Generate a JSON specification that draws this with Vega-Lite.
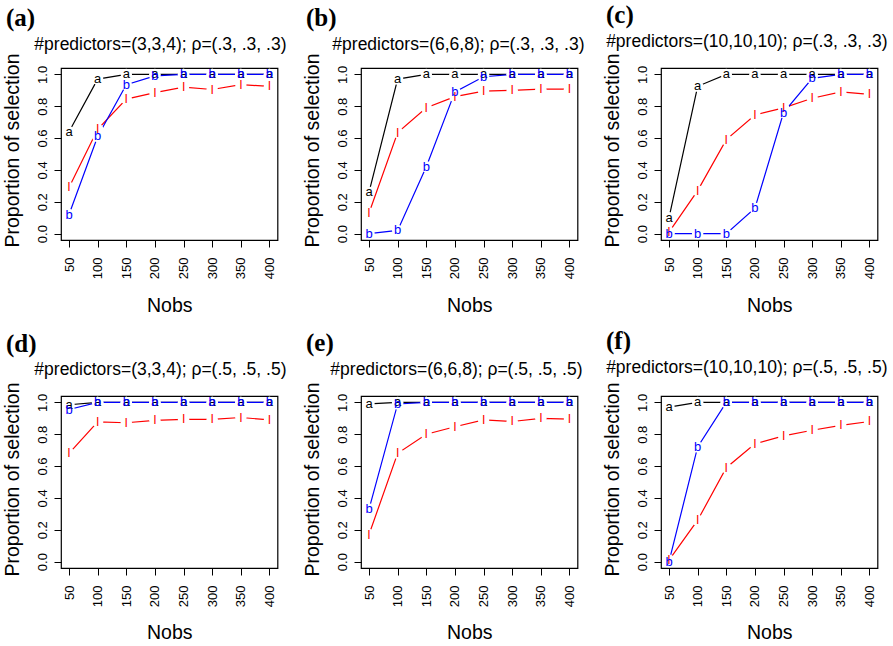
{
  "$schema": "https://vega.github.io/schema/vega-lite/v6.json",
  "background": "white",
  "padding": {"left": 1, "top": 2, "right": 5, "bottom": 5},
  "datasets": {
    "d": [
      {"p":"a","n":50,"s":"a","v":0.64},{"p":"a","n":100,"s":"a","v":0.97},{"p":"a","n":150,"s":"a","v":1},{"p":"a","n":200,"s":"a","v":1},{"p":"a","n":250,"s":"a","v":1},{"p":"a","n":300,"s":"a","v":1},{"p":"a","n":350,"s":"a","v":1},{"p":"a","n":400,"s":"a","v":1},
      {"p":"a","n":50,"s":"l","v":0.29},{"p":"a","n":100,"s":"l","v":0.655},{"p":"a","n":150,"s":"l","v":0.845},{"p":"a","n":200,"s":"l","v":0.885},{"p":"a","n":250,"s":"l","v":0.92},{"p":"a","n":300,"s":"l","v":0.905},{"p":"a","n":350,"s":"l","v":0.935},{"p":"a","n":400,"s":"l","v":0.925},
      {"p":"a","n":50,"s":"b","v":0.12},{"p":"a","n":100,"s":"b","v":0.61},{"p":"a","n":150,"s":"b","v":0.935},{"p":"a","n":200,"s":"b","v":0.99},{"p":"a","n":250,"s":"b","v":1},{"p":"a","n":300,"s":"b","v":1},{"p":"a","n":350,"s":"b","v":1},{"p":"a","n":400,"s":"b","v":1},

      {"p":"b","n":50,"s":"a","v":0.26},{"p":"b","n":100,"s":"a","v":0.97},{"p":"b","n":150,"s":"a","v":1},{"p":"b","n":200,"s":"a","v":1},{"p":"b","n":250,"s":"a","v":1},{"p":"b","n":300,"s":"a","v":1},{"p":"b","n":350,"s":"a","v":1},{"p":"b","n":400,"s":"a","v":1},
      {"p":"b","n":50,"s":"l","v":0.13},{"p":"b","n":100,"s":"l","v":0.635},{"p":"b","n":150,"s":"l","v":0.79},{"p":"b","n":200,"s":"l","v":0.86},{"p":"b","n":250,"s":"l","v":0.895},{"p":"b","n":300,"s":"l","v":0.9},{"p":"b","n":350,"s":"l","v":0.907},{"p":"b","n":400,"s":"l","v":0.907},
      {"p":"b","n":50,"s":"b","v":0},{"p":"b","n":100,"s":"b","v":0.02},{"p":"b","n":150,"s":"b","v":0.42},{"p":"b","n":200,"s":"b","v":0.89},{"p":"b","n":250,"s":"b","v":0.985},{"p":"b","n":300,"s":"b","v":1},{"p":"b","n":350,"s":"b","v":1},{"p":"b","n":400,"s":"b","v":1},

      {"p":"c","n":50,"s":"a","v":0.1},{"p":"c","n":100,"s":"a","v":0.925},{"p":"c","n":150,"s":"a","v":1},{"p":"c","n":200,"s":"a","v":1},{"p":"c","n":250,"s":"a","v":1},{"p":"c","n":300,"s":"a","v":1},{"p":"c","n":350,"s":"a","v":1},{"p":"c","n":400,"s":"a","v":1},
      {"p":"c","n":50,"s":"l","v":0.01},{"p":"c","n":100,"s":"l","v":0.27},{"p":"c","n":150,"s":"l","v":0.59},{"p":"c","n":200,"s":"l","v":0.745},{"p":"c","n":250,"s":"l","v":0.79},{"p":"c","n":300,"s":"l","v":0.85},{"p":"c","n":350,"s":"l","v":0.89},{"p":"c","n":400,"s":"l","v":0.875},
      {"p":"c","n":50,"s":"b","v":0},{"p":"c","n":100,"s":"b","v":0},{"p":"c","n":150,"s":"b","v":0},{"p":"c","n":200,"s":"b","v":0.16},{"p":"c","n":250,"s":"b","v":0.76},{"p":"c","n":300,"s":"b","v":0.975},{"p":"c","n":350,"s":"b","v":1},{"p":"c","n":400,"s":"b","v":1},

      {"p":"d","n":50,"s":"a","v":0.985},{"p":"d","n":100,"s":"a","v":1},{"p":"d","n":150,"s":"a","v":1},{"p":"d","n":200,"s":"a","v":1},{"p":"d","n":250,"s":"a","v":1},{"p":"d","n":300,"s":"a","v":1},{"p":"d","n":350,"s":"a","v":1},{"p":"d","n":400,"s":"a","v":1},
      {"p":"d","n":50,"s":"l","v":0.68},{"p":"d","n":100,"s":"l","v":0.878},{"p":"d","n":150,"s":"l","v":0.872},{"p":"d","n":200,"s":"l","v":0.887},{"p":"d","n":250,"s":"l","v":0.893},{"p":"d","n":300,"s":"l","v":0.893},{"p":"d","n":350,"s":"l","v":0.905},{"p":"d","n":400,"s":"l","v":0.89},
      {"p":"d","n":50,"s":"b","v":0.955},{"p":"d","n":100,"s":"b","v":1},{"p":"d","n":150,"s":"b","v":1},{"p":"d","n":200,"s":"b","v":1},{"p":"d","n":250,"s":"b","v":1},{"p":"d","n":300,"s":"b","v":1},{"p":"d","n":350,"s":"b","v":1},{"p":"d","n":400,"s":"b","v":1},

      {"p":"e","n":50,"s":"a","v":0.99},{"p":"e","n":100,"s":"a","v":1},{"p":"e","n":150,"s":"a","v":1},{"p":"e","n":200,"s":"a","v":1},{"p":"e","n":250,"s":"a","v":1},{"p":"e","n":300,"s":"a","v":1},{"p":"e","n":350,"s":"a","v":1},{"p":"e","n":400,"s":"a","v":1},
      {"p":"e","n":50,"s":"l","v":0.17},{"p":"e","n":100,"s":"l","v":0.68},{"p":"e","n":150,"s":"l","v":0.8},{"p":"e","n":200,"s":"l","v":0.847},{"p":"e","n":250,"s":"l","v":0.89},{"p":"e","n":300,"s":"l","v":0.88},{"p":"e","n":350,"s":"l","v":0.9},{"p":"e","n":400,"s":"l","v":0.895},
      {"p":"e","n":50,"s":"b","v":0.33},{"p":"e","n":100,"s":"b","v":0.99},{"p":"e","n":150,"s":"b","v":1},{"p":"e","n":200,"s":"b","v":1},{"p":"e","n":250,"s":"b","v":1},{"p":"e","n":300,"s":"b","v":1},{"p":"e","n":350,"s":"b","v":1},{"p":"e","n":400,"s":"b","v":1},

      {"p":"f","n":50,"s":"a","v":0.97},{"p":"f","n":100,"s":"a","v":1},{"p":"f","n":150,"s":"a","v":1},{"p":"f","n":200,"s":"a","v":1},{"p":"f","n":250,"s":"a","v":1},{"p":"f","n":300,"s":"a","v":1},{"p":"f","n":350,"s":"a","v":1},{"p":"f","n":400,"s":"a","v":1},
      {"p":"f","n":50,"s":"l","v":0.01},{"p":"f","n":100,"s":"l","v":0.26},{"p":"f","n":150,"s":"l","v":0.59},{"p":"f","n":200,"s":"l","v":0.74},{"p":"f","n":250,"s":"l","v":0.79},{"p":"f","n":300,"s":"l","v":0.825},{"p":"f","n":350,"s":"l","v":0.855},{"p":"f","n":400,"s":"l","v":0.88},
      {"p":"f","n":50,"s":"b","v":0},{"p":"f","n":100,"s":"b","v":0.72},{"p":"f","n":150,"s":"b","v":1},{"p":"f","n":200,"s":"b","v":1},{"p":"f","n":250,"s":"b","v":1},{"p":"f","n":300,"s":"b","v":1},{"p":"f","n":350,"s":"b","v":1},{"p":"f","n":400,"s":"b","v":1}
    ]
  },
  "data": {"name": "d"},
  "columns": 3,
  "bounds": "flush",
  "spacing": {"row": 156, "column": 83},
  "concat": [
    {
      "width": 216.5, "height": 172,
      "title": {"text": "(a)", "anchor": "start", "frame": "group", "dx": -55},
      "transform": [{"filter": "datum.p == 'a'"}],
      "resolve": {"axis": {"x": "independent", "y": "independent"}},
      "layer": [
        {"mark": {"type": "line", "strokeWidth": 1.2},
         "encoding": {
           "x": {"field": "n", "type": "quantitative", "scale": {"domain": [36, 414], "nice": false, "zero": false},
                 "axis": {"orient": "top", "labels": false, "ticks": false, "domain": false, "grid": false, "title": "#predictors=(3,3,4); ρ=(.3, .3, .3)", "titleX": 225, "titleY": -19, "titleAlign": "right", "titleBaseline": "alphabetic", "titleFontSize": 17.5}},
           "y": {"field": "v", "type": "quantitative", "scale": {"domain": [-0.04, 1.04], "nice": false, "zero": false},
                 "axis": {"values": [0,0.2,0.4,0.6,0.8,1], "format": ".1f", "labelAngle": 270, "labelAlign": "center", "labelBaseline": "alphabetic", "labelPadding": 8, "title": "Proportion of selection", "titleAngle": 270, "titleX": -43, "titleY": 82, "titleAlign": "center", "titleBaseline": "alphabetic"}},
           "color": {"field": "s", "type": "nominal", "scale": {"domain": ["a", "l", "b"], "range": ["#000000", "#FF0000", "#0000FF"]}, "legend": null}
         }},
        {"mark": {"type": "point", "shape": "circle", "filled": true, "color": "white", "opacity": 1, "size": 130},
         "encoding": {"x": {"field": "n", "type": "quantitative", "axis": null}, "y": {"field": "v", "type": "quantitative", "axis": null}}},
        {"mark": {"type": "text", "fontSize": 13, "baseline": "alphabetic", "dy": 4},
         "encoding": {
           "x": {"field": "n", "type": "quantitative", "axis": {"values": [50,100,150,200,250,300,350,400], "labelAngle": 270, "labelAlign": "right", "labelBaseline": "middle", "labelPadding": 10, "title": "Nobs", "titleY": 71, "titleBaseline": "alphabetic"}},
           "y": {"field": "v", "type": "quantitative", "axis": null},
           "text": {"field": "s"},
           "color": {"field": "s", "type": "nominal", "legend": null}
         }}
      ]
    },
    {
      "width": 216.5, "height": 172,
      "title": {"text": "(b)", "anchor": "start", "frame": "group", "dx": -55},
      "transform": [{"filter": "datum.p == 'b'"}],
      "resolve": {"axis": {"x": "independent", "y": "independent"}},
      "layer": [
        {"mark": {"type": "line", "strokeWidth": 1.2},
         "encoding": {
           "x": {"field": "n", "type": "quantitative", "scale": {"domain": [36, 414], "nice": false, "zero": false},
                 "axis": {"orient": "top", "labels": false, "ticks": false, "domain": false, "grid": false, "title": "#predictors=(6,6,8); ρ=(.3, .3, .3)", "titleX": 223, "titleY": -19, "titleAlign": "right", "titleBaseline": "alphabetic", "titleFontSize": 17.5}},
           "y": {"field": "v", "type": "quantitative", "scale": {"domain": [-0.04, 1.04], "nice": false, "zero": false},
                 "axis": {"values": [0,0.2,0.4,0.6,0.8,1], "format": ".1f", "labelAngle": 270, "labelAlign": "center", "labelBaseline": "alphabetic", "labelPadding": 8, "title": "Proportion of selection", "titleAngle": 270, "titleX": -43, "titleY": 82, "titleAlign": "center", "titleBaseline": "alphabetic"}},
           "color": {"field": "s", "type": "nominal", "scale": {"domain": ["a", "l", "b"], "range": ["#000000", "#FF0000", "#0000FF"]}, "legend": null}
         }},
        {"mark": {"type": "point", "shape": "circle", "filled": true, "color": "white", "opacity": 1, "size": 130},
         "encoding": {"x": {"field": "n", "type": "quantitative", "axis": null}, "y": {"field": "v", "type": "quantitative", "axis": null}}},
        {"mark": {"type": "text", "fontSize": 13, "baseline": "alphabetic", "dy": 4},
         "encoding": {
           "x": {"field": "n", "type": "quantitative", "axis": {"values": [50,100,150,200,250,300,350,400], "labelAngle": 270, "labelAlign": "right", "labelBaseline": "middle", "labelPadding": 10, "title": "Nobs", "titleY": 71, "titleBaseline": "alphabetic"}},
           "y": {"field": "v", "type": "quantitative", "axis": null},
           "text": {"field": "s"},
           "color": {"field": "s", "type": "nominal", "legend": null}
         }}
      ]
    },
    {
      "width": 216.5, "height": 172,
      "title": {"text": "(c)", "anchor": "start", "frame": "group", "dx": -55},
      "transform": [{"filter": "datum.p == 'c'"}],
      "resolve": {"axis": {"x": "independent", "y": "independent"}},
      "layer": [
        {"mark": {"type": "line", "strokeWidth": 1.2},
         "encoding": {
           "x": {"field": "n", "type": "quantitative", "scale": {"domain": [36, 414], "nice": false, "zero": false},
                 "axis": {"orient": "top", "labels": false, "ticks": false, "domain": false, "grid": false, "title": "#predictors=(10,10,10); ρ=(.3, .3, .3)", "titleX": 226, "titleY": -22, "titleAlign": "right", "titleBaseline": "alphabetic", "titleFontSize": 17.5}},
           "y": {"field": "v", "type": "quantitative", "scale": {"domain": [-0.04, 1.04], "nice": false, "zero": false},
                 "axis": {"values": [0,0.2,0.4,0.6,0.8,1], "format": ".1f", "labelAngle": 270, "labelAlign": "center", "labelBaseline": "alphabetic", "labelPadding": 8, "title": "Proportion of selection", "titleAngle": 270, "titleX": -43, "titleY": 82, "titleAlign": "center", "titleBaseline": "alphabetic"}},
           "color": {"field": "s", "type": "nominal", "scale": {"domain": ["a", "l", "b"], "range": ["#000000", "#FF0000", "#0000FF"]}, "legend": null}
         }},
        {"mark": {"type": "point", "shape": "circle", "filled": true, "color": "white", "opacity": 1, "size": 130},
         "encoding": {"x": {"field": "n", "type": "quantitative", "axis": null}, "y": {"field": "v", "type": "quantitative", "axis": null}}},
        {"mark": {"type": "text", "fontSize": 13, "baseline": "alphabetic", "dy": 4},
         "encoding": {
           "x": {"field": "n", "type": "quantitative", "axis": {"values": [50,100,150,200,250,300,350,400], "labelAngle": 270, "labelAlign": "right", "labelBaseline": "middle", "labelPadding": 10, "title": "Nobs", "titleY": 71, "titleBaseline": "alphabetic"}},
           "y": {"field": "v", "type": "quantitative", "axis": null},
           "text": {"field": "s"},
           "color": {"field": "s", "type": "nominal", "legend": null}
         }}
      ]
    },
    {
      "width": 216.5, "height": 172,
      "title": {"text": "(d)", "anchor": "start", "frame": "group", "dx": -55},
      "transform": [{"filter": "datum.p == 'd'"}],
      "resolve": {"axis": {"x": "independent", "y": "independent"}},
      "layer": [
        {"mark": {"type": "line", "strokeWidth": 1.2},
         "encoding": {
           "x": {"field": "n", "type": "quantitative", "scale": {"domain": [36, 414], "nice": false, "zero": false},
                 "axis": {"orient": "top", "labels": false, "ticks": false, "domain": false, "grid": false, "title": "#predictors=(3,3,4); ρ=(.5, .5, .5)", "titleX": 225, "titleY": -21.5, "titleAlign": "right", "titleBaseline": "alphabetic", "titleFontSize": 17.5}},
           "y": {"field": "v", "type": "quantitative", "scale": {"domain": [-0.04, 1.04], "nice": false, "zero": false},
                 "axis": {"values": [0,0.2,0.4,0.6,0.8,1], "format": ".1f", "labelAngle": 270, "labelAlign": "center", "labelBaseline": "alphabetic", "labelPadding": 8, "title": "Proportion of selection", "titleAngle": 270, "titleX": -43, "titleY": 83, "titleAlign": "center", "titleBaseline": "alphabetic"}},
           "color": {"field": "s", "type": "nominal", "scale": {"domain": ["a", "l", "b"], "range": ["#000000", "#FF0000", "#0000FF"]}, "legend": null}
         }},
        {"mark": {"type": "point", "shape": "circle", "filled": true, "color": "white", "opacity": 1, "size": 130},
         "encoding": {"x": {"field": "n", "type": "quantitative", "axis": null}, "y": {"field": "v", "type": "quantitative", "axis": null}}},
        {"mark": {"type": "text", "fontSize": 13, "baseline": "alphabetic", "dy": 4},
         "encoding": {
           "x": {"field": "n", "type": "quantitative", "axis": {"values": [50,100,150,200,250,300,350,400], "labelAngle": 270, "labelAlign": "right", "labelBaseline": "middle", "labelPadding": 10, "title": "Nobs", "titleY": 70, "titleBaseline": "alphabetic"}},
           "y": {"field": "v", "type": "quantitative", "axis": null},
           "text": {"field": "s"},
           "color": {"field": "s", "type": "nominal", "legend": null}
         }}
      ]
    },
    {
      "width": 216.5, "height": 172,
      "title": {"text": "(e)", "anchor": "start", "frame": "group", "dx": -55},
      "transform": [{"filter": "datum.p == 'e'"}],
      "resolve": {"axis": {"x": "independent", "y": "independent"}},
      "layer": [
        {"mark": {"type": "line", "strokeWidth": 1.2},
         "encoding": {
           "x": {"field": "n", "type": "quantitative", "scale": {"domain": [36, 414], "nice": false, "zero": false},
                 "axis": {"orient": "top", "labels": false, "ticks": false, "domain": false, "grid": false, "title": "#predictors=(6,6,8); ρ=(.5, .5, .5)", "titleX": 221, "titleY": -22, "titleAlign": "right", "titleBaseline": "alphabetic", "titleFontSize": 17.5}},
           "y": {"field": "v", "type": "quantitative", "scale": {"domain": [-0.04, 1.04], "nice": false, "zero": false},
                 "axis": {"values": [0,0.2,0.4,0.6,0.8,1], "format": ".1f", "labelAngle": 270, "labelAlign": "center", "labelBaseline": "alphabetic", "labelPadding": 8, "title": "Proportion of selection", "titleAngle": 270, "titleX": -43, "titleY": 83, "titleAlign": "center", "titleBaseline": "alphabetic"}},
           "color": {"field": "s", "type": "nominal", "scale": {"domain": ["a", "l", "b"], "range": ["#000000", "#FF0000", "#0000FF"]}, "legend": null}
         }},
        {"mark": {"type": "point", "shape": "circle", "filled": true, "color": "white", "opacity": 1, "size": 130},
         "encoding": {"x": {"field": "n", "type": "quantitative", "axis": null}, "y": {"field": "v", "type": "quantitative", "axis": null}}},
        {"mark": {"type": "text", "fontSize": 13, "baseline": "alphabetic", "dy": 4},
         "encoding": {
           "x": {"field": "n", "type": "quantitative", "axis": {"values": [50,100,150,200,250,300,350,400], "labelAngle": 270, "labelAlign": "right", "labelBaseline": "middle", "labelPadding": 10, "title": "Nobs", "titleY": 70, "titleBaseline": "alphabetic"}},
           "y": {"field": "v", "type": "quantitative", "axis": null},
           "text": {"field": "s"},
           "color": {"field": "s", "type": "nominal", "legend": null}
         }}
      ]
    },
    {
      "width": 216.5, "height": 172,
      "title": {"text": "(f)", "anchor": "start", "frame": "group", "dx": -55},
      "transform": [{"filter": "datum.p == 'f'"}],
      "resolve": {"axis": {"x": "independent", "y": "independent"}},
      "layer": [
        {"mark": {"type": "line", "strokeWidth": 1.2},
         "encoding": {
           "x": {"field": "n", "type": "quantitative", "scale": {"domain": [36, 414], "nice": false, "zero": false},
                 "axis": {"orient": "top", "labels": false, "ticks": false, "domain": false, "grid": false, "title": "#predictors=(10,10,10); ρ=(.5, .5, .5)", "titleX": 226, "titleY": -24, "titleAlign": "right", "titleBaseline": "alphabetic", "titleFontSize": 17.5}},
           "y": {"field": "v", "type": "quantitative", "scale": {"domain": [-0.04, 1.04], "nice": false, "zero": false},
                 "axis": {"values": [0,0.2,0.4,0.6,0.8,1], "format": ".1f", "labelAngle": 270, "labelAlign": "center", "labelBaseline": "alphabetic", "labelPadding": 8, "title": "Proportion of selection", "titleAngle": 270, "titleX": -43, "titleY": 83, "titleAlign": "center", "titleBaseline": "alphabetic"}},
           "color": {"field": "s", "type": "nominal", "scale": {"domain": ["a", "l", "b"], "range": ["#000000", "#FF0000", "#0000FF"]}, "legend": null}
         }},
        {"mark": {"type": "point", "shape": "circle", "filled": true, "color": "white", "opacity": 1, "size": 130},
         "encoding": {"x": {"field": "n", "type": "quantitative", "axis": null}, "y": {"field": "v", "type": "quantitative", "axis": null}}},
        {"mark": {"type": "text", "fontSize": 13, "baseline": "alphabetic", "dy": 4},
         "encoding": {
           "x": {"field": "n", "type": "quantitative", "axis": {"values": [50,100,150,200,250,300,350,400], "labelAngle": 270, "labelAlign": "right", "labelBaseline": "middle", "labelPadding": 10, "title": "Nobs", "titleY": 70, "titleBaseline": "alphabetic"}},
           "y": {"field": "v", "type": "quantitative", "axis": null},
           "text": {"field": "s"},
           "color": {"field": "s", "type": "nominal", "legend": null}
         }}
      ]
    }
  ],
  "config": {
    "font": "Liberation Sans",
    "view": {"stroke": "#000000", "strokeWidth": 1.2},
    "text": {"font": "Liberation Sans"},
    "axis": {"domain": false, "grid": false, "tickColor": "#000000", "tickSize": 7, "tickWidth": 1, "labelColor": "#000000", "titleColor": "#000000", "labelFont": "Liberation Sans", "titleFont": "Liberation Sans", "titleFontWeight": "normal", "labelFontSize": 13, "titleFontSize": 19.5, "labelFlush": false, "labelOverlap": false, "labelBound": false},
    "title": {"font": "Liberation Serif", "fontWeight": "bold", "fontSize": 25, "color": "#000000"}
  }
}
